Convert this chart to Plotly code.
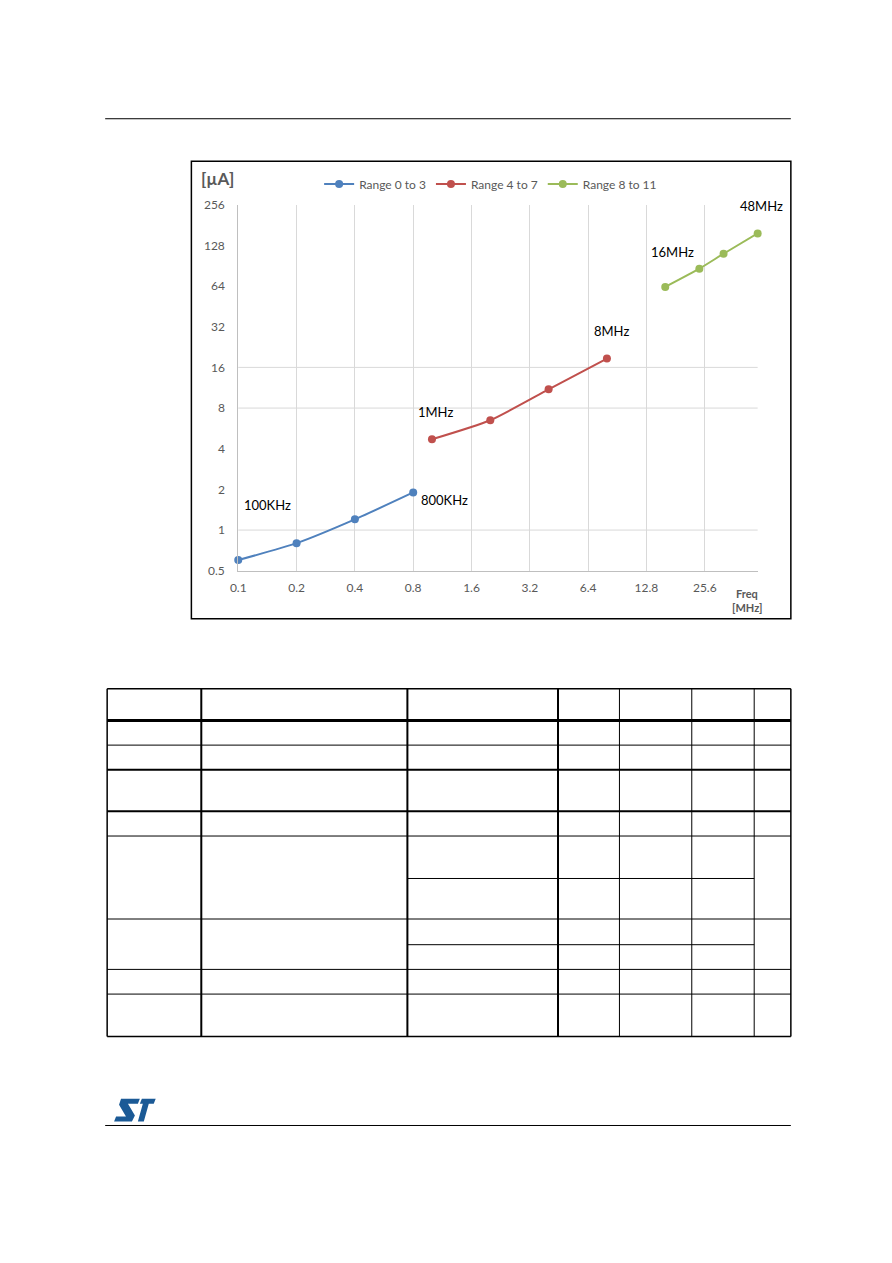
import numpy as np
import plotly.graph_objects as go

# ---------------- data ----------------
series_names = ["Range 0 to 3", "Range 4 to 7", "Range 8 to 11"]
freq_r0 = [0.1, 0.2, 0.4, 0.8]
curr_r0 = [0.6, 0.8, 1.2, 1.9]
freq_r1 = [1, 2, 4, 8]
curr_r1 = [4.7, 6.5, 11, 18.6]
freq_r2 = [16, 24, 32, 48]
curr_r2 = [63, 86, 111, 157]

x_ticks = [0.1, 0.2, 0.4, 0.8, 1.6, 3.2, 6.4, 12.8, 25.6]
x_tick_text = ["0.1", "0.2", "0.4", "0.8", "1.6", "3.2", "6.4", "12.8", "25.6"]
y_ticks = [0.5, 1, 2, 4, 8, 16, 32, 64, 128, 256]
y_tick_text = ["0.5", "1", "2", "4", "8", "16", "32", "64", "128", "256"]
y_grid_values = [1, 8, 16]

point_labels = [  # (text, series index, point index, xshift, yshift)
    ("100KHz", 0, 0, 29, 55),
    ("800KHz", 0, 3, 31, -8),
    ("1MHz", 1, 0, 4, 27),
    ("8MHz", 1, 3, 5, 28),
    ("16MHz", 2, 0, 7, 35),
    ("48MHz", 2, 3, 4, 27),
]

# ---------------- layout constants ----------------
OFF = 8  # browser default body margin
W, H = 892 - 2 * OFF, 1263 - 2 * OFF
colors = ["#4F81BD", "#C0504D", "#9BBB59"]
GRAY_TXT = "#595959"
FONT = "Lato"


def px(x):
    return (x - OFF) / W


def py(y):
    return 1 - (y - OFF) / H


plot_left, plot_right, plot_top, plot_bottom = 232.3, 756.5, 199, 569.5

fig = go.Figure()
all_x = [freq_r0, freq_r1, freq_r2]
all_y = [curr_r0, curr_r1, curr_r2]
for name, xs, ys, c in zip(series_names, all_x, all_y, colors):
    fig.add_trace(go.Scatter(
        x=xs, y=ys, name=name, mode="lines+markers",
        line=dict(color=c, width=2, shape="spline", smoothing=0.6),
        marker=dict(color=c, size=8),
        cliponaxis=False,
    ))

annotations = []
for text, si, pi, dx, dy in point_labels:
    annotations.append(dict(
        x=np.log10(all_x[si][pi]), y=np.log10(all_y[si][pi]), xref="x", yref="y",
        text=text, showarrow=False, xshift=dx, yshift=dy,
        font=dict(family=FONT, size=13, color="#000000"),
    ))

annotations += [
    dict(x=px(193), y=py(172), xref="paper", yref="paper", xanchor="left", yanchor="middle",
         text="<b>[µA]</b>", showarrow=False, font=dict(family=FONT, size=17, color=GRAY_TXT)),
    dict(x=px(746), y=py(593), xref="paper", yref="paper", xanchor="center", yanchor="middle",
         text="<b>Freq</b>", showarrow=False, font=dict(family=FONT, size=11, color=GRAY_TXT)),
    dict(x=px(745.5), y=py(607), xref="paper", yref="paper", xanchor="center", yanchor="middle",
         text="<b>[MHz]</b>", showarrow=False, font=dict(family=FONT, size=11, color=GRAY_TXT)),
]

shapes = []
for gv in y_grid_values:
    shapes.append(dict(type="line", xref="x domain", yref="y", x0=0, x1=1, y0=gv, y1=gv,
                       line=dict(color="#D9D9D9", width=1), layer="below"))
shapes.append(dict(type="rect", xref="paper", yref="paper", x0=px(185), x1=px(790), y0=py(618), y1=py(155),
                   line=dict(color="#000000", width=1.5)))
for yy in (112, 1131):
    shapes.append(dict(type="line", xref="paper", yref="paper", x0=px(98), x1=px(790), y0=py(yy), y1=py(yy),
                       line=dict(color="#000000", width=1)))

tbl_cols = [100, 195, 403, 555, 617, 690, 753, 790]
tbl_col_w = [1.5, 2, 2, 2, 1, 1, 1, 1.5]
tbl_rows = [689, 721, 746, 771, 813, 838, 922, 973, 998, 1041]
tbl_row_w = [1.5, 3, 1, 2, 2, 1, 1, 1, 1, 1.5]
tbl_partial_rows = [881, 948]
for xc, lw in zip(tbl_cols, tbl_col_w):
    shapes.append(dict(type="line", xref="paper", yref="paper", x0=px(xc), x1=px(xc), y0=py(689), y1=py(1041),
                       line=dict(color="#000000", width=lw)))
for yr, lw in zip(tbl_rows, tbl_row_w):
    shapes.append(dict(type="line", xref="paper", yref="paper", x0=px(100), x1=px(790), y0=py(yr), y1=py(yr),
                       line=dict(color="#000000", width=lw)))
for yr in tbl_partial_rows:
    shapes.append(dict(type="line", xref="paper", yref="paper", x0=px(403), x1=px(753), y0=py(yr), y1=py(yr),
                       line=dict(color="#000000", width=1)))


def poly(points):
    return "M " + " L ".join(f"{px(a):.5f},{py(b):.5f}" for a, b in points) + " Z"


logo_s = [(114, 1104), (133, 1104), (131, 1109), (121, 1109), (128, 1121), (125, 1127),
          (107, 1127), (109, 1122), (119, 1122), (112, 1110)]
logo_t = [(135, 1104), (149, 1104), (147, 1109), (142, 1109), (137, 1127), (131, 1127), (136, 1109), (133, 1109)]
for pts in (logo_s, logo_t):
    shapes.append(dict(type="path", xref="paper", yref="paper", path=poly(pts),
                       fillcolor="#1B5A96", line=dict(width=0)))

fig.update_layout(
    width=W, height=H,
    margin=dict(l=0, r=0, t=0, b=0),
    paper_bgcolor="white", plot_bgcolor="white",
    showlegend=True,
    legend=dict(orientation="h", x=px(487), y=py(178), xanchor="center", yanchor="middle",
                font=dict(family=FONT, size=12, color=GRAY_TXT), bgcolor="rgba(0,0,0,0)",
                itemwidth=30, tracegroupgap=0),
    xaxis=dict(type="log", domain=[px(plot_left), px(plot_right)], range=[-1, np.log10(48)],
               tickvals=x_ticks, ticktext=x_tick_text, showgrid=True, gridcolor="#D9D9D9", gridwidth=1,
               showline=True, linecolor="#BFBFBF", linewidth=1, ticks="", zeroline=False,
               tickfont=dict(family=FONT, size=12, color=GRAY_TXT), ticklabelstandoff=6),
    yaxis=dict(type="log", domain=[py(plot_bottom), py(plot_top)], range=[np.log10(0.5), np.log10(256)],
               tickvals=y_ticks, ticktext=y_tick_text, showgrid=False,
               showline=True, linecolor="#BFBFBF", linewidth=1, ticks="", zeroline=False,
               tickfont=dict(family=FONT, size=12, color=GRAY_TXT), ticklabelstandoff=10),
    annotations=annotations,
    shapes=shapes,
)

fig.write_html("out.html")
